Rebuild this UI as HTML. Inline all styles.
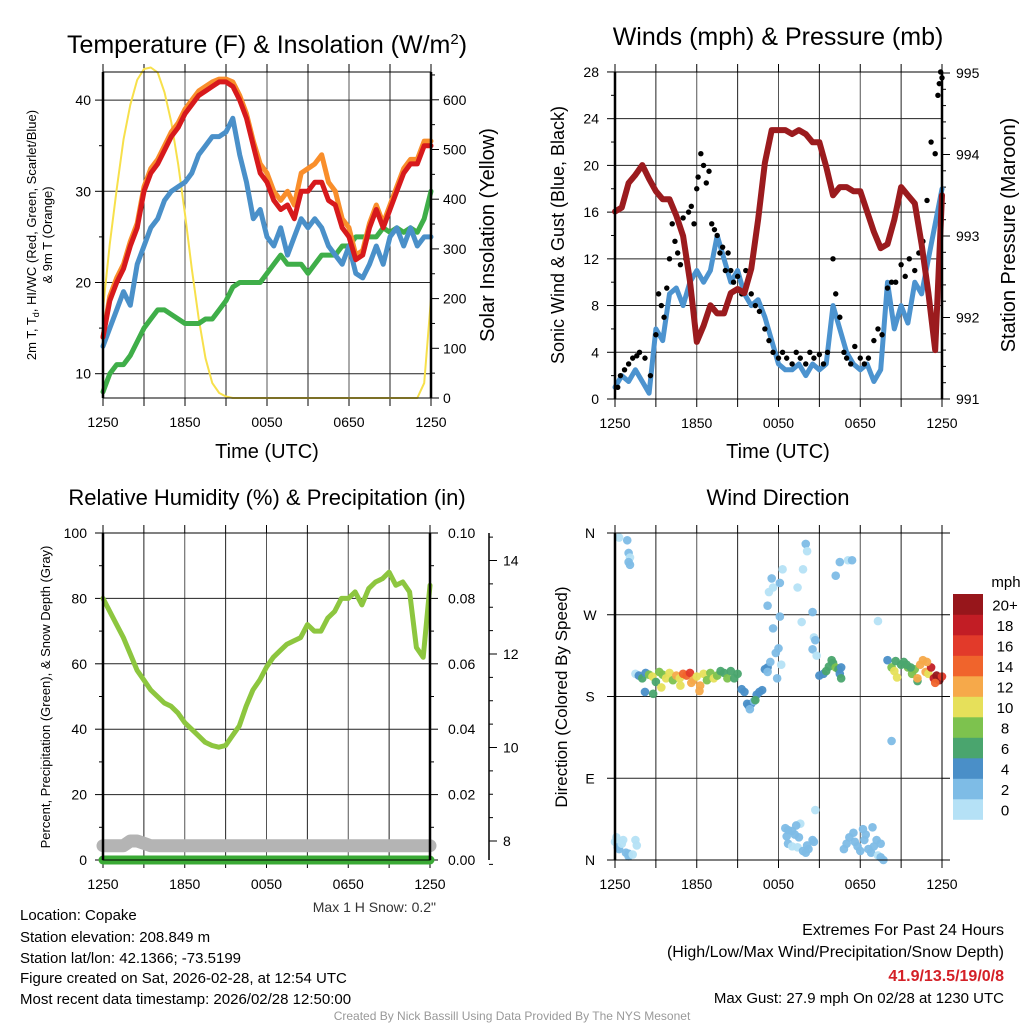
<!DOCTYPE html>
<html><head><meta charset="utf-8"><style>
html,body{margin:0;padding:0;background:#fff;}
svg{display:block;font-family:"Liberation Sans",Arial,sans-serif;}
</style></head><body>
<svg id="chart" width="1024" height="1024" viewBox="0 0 1024 1024" xmlns="http://www.w3.org/2000/svg"></svg>
<script>
// ---------- DATA (half-hourly, 49 points from 1250 UTC to 1250 UTC) ----------
const timeTicks = ["1250","1850","0050","0650","1250"];
const tempRed = [14,18,20,21.5,24,26,30,32,33,34.5,36,37,38.5,39.5,40.5,41,41.5,42,42,41.5,40,38,35,32,31,29,28,28.5,27,30,30,31,31,29,28.5,26,25,22.5,23,26,28,26,28,30,32,33,33,35,35];
const tempOrange = [14,18.5,20.5,22,24.5,26.5,30.5,32.5,33.5,35,36.5,37.5,39,40,41,41.5,42,42.3,42.3,42,40.5,38.5,35.5,33,32,30,29,30,28.5,32,32.5,33,34,31,30,27,26,23,23.5,26.5,28.5,26.5,28.5,30.5,32.5,33.5,33.5,35.5,35.5];
const tempBlue = [13,15,17,19,17.5,22,24,26,27,29,30,30.5,31,32,34,35,36,36,36.5,38,34,31,27,28,25,24,26,23,25,27,26,27,26,24,23,22,24,21,20.5,22,24,22,25,26,24,26,24,25,25];
const dewGreen = [8,10,11,11,12,13.5,15,16,17,17,16.5,16,15.5,15.5,15.5,16,16,17,18,19.5,20,20,20,20,21,22,23,22,22,22,21,22,23,23,23,24,24,25,25,25,25,26,25.5,26,25.5,26,25.5,27,30];
const solar = [180,310,420,520,590,640,662,665,655,615,555,470,370,260,160,80,30,10,3,0,0,0,0,0,0,0,0,0,0,0,0,0,0,0,0,0,0,0,0,0,0,0,0,0,0,0,0,30,200];
const pressure = [993.3,993.35,993.65,993.75,993.87,993.7,993.55,993.45,993.45,993.25,993.0,992.45,991.7,991.9,992.15,992.05,992.05,992.3,992.35,992.3,992.6,993.2,993.9,994.3,994.3,994.3,994.25,994.3,994.25,994.15,994.15,993.85,993.5,993.6,993.6,993.55,993.55,993.3,993.05,992.85,992.9,993.2,993.6,993.5,993.4,992.9,992.3,991.6,993.5];
const windSpeed = [1,2,1.5,2.5,1.5,0.5,6,5,9,9.5,8,10,11,10,11,14,12,10,11,9,8,8.5,7,5,3,2.5,2.5,3,2,3,2.5,3,8,6,4,3,2.5,3,1.5,2.5,10,6,8,6.5,10,9,12,15,18];
const gustHours = [0.2,0.4,0.7,1,1.3,1.6,1.8,2.2,2.6,3,3.2,3.4,3.6,3.8,4,4.2,4.4,4.6,4.8,5,5.2,5.4,5.6,5.8,6,6.1,6.3,6.5,6.7,6.9,7.1,7.3,7.5,7.7,7.9,8.1,8.3,8.5,8.7,9,9.3,9.6,10,10.3,10.6,11,11.3,11.6,12,12.3,12.6,13,13.3,13.6,14,14.3,14.6,15,15.3,15.6,16,16.2,16.5,16.8,17,17.3,17.6,18,18.3,18.6,19,19.3,19.6,20,20.3,20.6,21,21.3,21.6,22,22.3,22.6,22.9,23.2,23.5,23.7,23.8,23.9,24];
const gustValues = [1,2,2.5,3,3.5,3.7,4,3.5,2,5.5,9,8,7,9.5,12,15,13.5,12.5,11.5,15.5,12,16,16.5,15,18,19,21,20,18.5,19.5,15,14.5,14,12.5,13,11,12.5,11,10,10.5,9,11,9,8,7.5,6,5,4,3.5,4,3.5,3,4,3.5,3,4,3.5,3.8,3,4,12,9,7,4,3.5,3,4.5,3.5,3,3.5,5,6,5.5,9.5,10,10,11.5,10.5,12,11,12.5,13.5,17,22,21,26,27,28,27.5];
const rhValues = [80,76,72,68,63,58,55,52,50,48,47,45,42,40,38,36,35,34.5,35,38,41,47,52,55,59,62,64,66,67,68,72,70,70,74,76,80,80,82,78,83,85,86,88,84,85,82,65,62,84];
const precipValues = [0,0,0,0,0,0,0,0,0,0,0,0,0,0,0,0,0,0,0,0,0,0,0,0,0,0,0,0,0,0,0,0,0,0,0,0,0,0,0,0,0,0,0,0,0,0,0,0,0];
const snowDepth = [7.9,7.9,7.9,7.9,8.0,8.0,7.95,7.9,7.9,7.9,7.9,7.9,7.9,7.9,7.9,7.9,7.9,7.9,7.9,7.9,7.9,7.9,7.9,7.9,7.9,7.9,7.9,7.9,7.9,7.9,7.9,7.9,7.9,7.9,7.9,7.9,7.9,7.9,7.9,7.9,7.9,7.9,7.9,7.9,7.9,7.9,7.9,7.9,7.9];
const snowTicks = [8,10,12,14];
const dirHours = [0.3,0.9,1.0,1.1,1.0,1.1, 0,0.1,0.2,0.3,0.5,0.6,0.8,1.0,1.0,1.5,1.6,1.3,
 1.5,1.75,2.0,2.25,2.5,2.75,3.0,3.25,3.5,3.75,4.0,4.25,4.5,4.75,5.0,5.25,5.5,5.75,6.0,6.25,6.5,6.75,7.0,7.25,7.5,7.75,8.0,8.25,8.5,8.75,9.0,2.2,2.8,5.6,6.2,3.4,4.8,
 9.3,9.5,9.7,9.8,10.0,10.2,10.4,10.6,10.8,10.3,9.9,
 11.0,11.2,11.4,11.2,11.8,12.0,11.9,12.2,11.6,11.2,11.3,11.6,11.5,12.3,12.1,12.1,
 12.5,12.7,13.0,12.6,13.2,13.5,12.7,13.0,13.4,13.8,14.0,14.2,14.1,13.6,14.5,14.6,13.3,14.7,
 13.4,13.8,14.0,14.1,13.7,14.5,14.6,14.7,14.5,14.8,
 15.0,15.3,15.5,15.7,16.0,16.2,16.4,16.5,16.6,15.9,16.6,
 16.5,17.1,16.2,17.4,
 16.8,17.0,17.2,17.5,17.6,17.8,18.0,18.3,18.4,18.6,18.8,19.0,19.2,19.3,19.5,19.7,18.2,18.9,19.5,
 20.3,19.3,
 20.0,20.3,20.5,20.7,21.0,21.2,21.5,21.8,22.0,22.2,22.4,22.6,22.8,23.0,23.2,23.4,23.6,23.8,24.0,22.9,23.5,22.2,21.7,20.6,21.4];
const dirDegrees = [355,352,338,333,328,325, 20,25,14,12,18,22,8,4,7,22,16,6,
 205,203,200,206,204,202,196,207,204,200,206,198,203,200,205,203,206,198,202,192,205,198,206,200,203,208,206,200,208,200,205,185,183,195,186,190,192,
 188,185,172,170,172,175,182,185,187,176,166,
 210,212,218,207,228,233,200,215,255,280,295,300,310,320,305,268,
 35,33,32,26,28,25,18,15,14,10,8,12,16,40,22,20,38,55,
 300,320,348,340,262,273,245,242,232,225,
 203,205,208,213,217,212,210,205,200,220,212,
 328,330,313,330,
 12,18,25,30,20,15,10,22,28,12,8,15,22,5,3,0,34,36,18,
 131,263,
 220,212,208,201,215,218,212,205,210,197,215,220,207,205,212,200,203,198,202,218,195,200,212,219,215];
const dirSpeeds = [1,2,2,1,2,2, 1,1,2,2,1,0,2,2,2,1,1,1,
 1,4,6,5,8,10,7,9,8,10,11,9,12,10,14,15,16,12,11,13,10,9,8,10,9,7,6,8,6,7,6,4,7,13,12,10,11,
 4,4,4,4,4,3,4,4,4,6,3,
 4,4,3,3,3,3,3,1,3,2,1,1,2,1,2,3,
 2,2,2,2,2,2,2,1,1,2,2,2,3,1,3,2,2,1,
 1,1,3,1,1,2,1,2,2,1,
 4,4,6,6,6,8,6,4,6,6,4,
 2,1,2,2,
 2,2,2,2,3,3,3,3,2,2,3,3,3,1,2,2,2,3,3,
 2,0,
 4,8,10,10,6,6,8,8,8,6,12,12,12,10,18,18,20,20,16,12,14,12,6,6,6];
const speedBinLabels = ["0","2","4","6","8","10","12","14","16","18","20+"];
const speedBinColors = ["#b5e1f6","#7ebce6","#4a8fc8","#4aa56e","#7dc24e","#e6e05a","#f6a94a","#f0642c","#e23a2a","#c21d25","#97161b"];

// ---------- helpers ----------
const NS = "http://www.w3.org/2000/svg";
const svg = document.getElementById("chart");
function mk(tag, attrs, name, parent) {
  const el = document.createElementNS(NS, tag);
  for (const k in attrs) el.setAttribute(k, attrs[k]);
  
  
  (parent || svg).appendChild(el);
  return el;
}
function txt(x, y, s, size, name, opts) {
  opts = opts || {};
  const el = mk("text", {x: x, y: y, "font-size": size, fill: opts.fill || "#000", "text-anchor": opts.anchor || "middle", "font-weight": opts.weight || "normal"}, name, opts.parent);
  if (opts.rot) el.setAttribute("transform", "rotate(" + opts.rot + " " + x + " " + y + ")");
  el.textContent = s;
  return el;
}
function ln(x1, y1, x2, y2, stroke, w, name, parent) {
  return mk("line", {x1: x1, y1: y1, x2: x2, y2: y2, stroke: stroke, "stroke-width": w}, name, parent);
}
function poly(xs, ys, stroke, w, name, parent) {
  let d = "";
  for (let i = 0; i < xs.length; i++) d += (i ? " " : "") + xs[i].toFixed(1) + "," + ys[i].toFixed(1);
  return mk("polyline", {points: d, fill: "none", stroke: stroke, "stroke-width": w, "stroke-linejoin": "round", "stroke-linecap": "round"}, name, parent);
}
function hrs(n) { const a = []; for (let i = 0; i < n; i++) a.push(i * 0.5); return a; }

function frame(g, L, R, T, B, prefix) {
  for (let h = 0; h <= 24; h += 3) {
    const x = L + (R - L) * h / 24;
    if (h > 0 && h < 24) ln(x, T, x, B, (h % 6 === 0) ? "#555" : "#222", 1, prefix + "-vgrid", g);
    ln(x, T - 8, x, T, "#000", 1, prefix + "-top-tick", g);
    ln(x, B, x, B + 8, "#000", 1, prefix + "-bottom-tick", g);
  }
  for (let i = 0; i < 5; i++) txt(L + (R - L) * i / 4, B + 29, timeTicks[i], 14, prefix + "-x-tick-label", {parent: g});
}

// ================= PANEL 1: Temperature =================
(function () {
  const g = mk("g", {}, "temperature-panel");
  const L = 103, R = 431, T = 72, B = 398;
  const x = h => L + (R - L) * h / 24;
  const yT = v => 373.7 - (v - 10) * 9.12;
  const yS = w => B - w * 0.497;
  const hx = hrs(49).map(x);
  frame(g, L, R, T, B, "temp");
  for (let v = 10; v <= 40; v += 10) { ln(L, yT(v), R, yT(v), "#222", 1, "temp-hgrid", g); ln(L - 8, yT(v), L, yT(v), "#000", 1, "temp-y-tick", g); txt(L - 12, yT(v) + 5, String(v), 14, "temp-y-tick-label", {anchor: "end", parent: g}); }
  for (let v = 15; v <= 40; v += 10) ln(L - 4, yT(v), L, yT(v), "#000", 1, "temp-y-minor-tick", g);
  for (let w = 0; w <= 650; w += 50) { const big = w % 100 === 0; ln(R, yS(w), R + (big ? 8 : 4), yS(w), "#000", 1, "solar-y-tick", g); if (big) txt(R + 12, yS(w) + 5, String(w), 14, "solar-y-tick-label", {anchor: "start", parent: g}); }
  poly(hx, solar.map(yS), "#f7e04b", 2, "solar-insolation-line", g);
  poly(hx, dewGreen.map(yT), "#3fae49", 5, "dewpoint-line", g);
  poly(hx, tempBlue.map(yT), "#4a90c9", 5, "wind-chill-line", g);
  poly(hx, tempOrange.map(yT), "#f98e2b", 5, "temp-9m-line", g);
  poly(hx, tempRed.map(yT), "#d7191c", 5, "temp-2m-line", g);
  mk("rect", {x: L, y: T, width: R - L, height: B - T, fill: "none", stroke: "#000", "stroke-width": 1}, "temp-plot-frame", g);
  ln(L, T, L, B, "#000", 2.5, "temp-left-axis", g); ln(R, T, R, B, "#000", 2.5, "temp-right-axis", g);
  const t = txt(267, 53, "Temperature (F) & Insolation (W/m", 25, "temp-title", {parent: g});
  const sup = document.createElementNS(NS, "tspan"); sup.setAttribute("dy", "-9"); sup.setAttribute("font-size", "15"); sup.textContent = "2"; t.appendChild(sup);
  const cl = document.createElementNS(NS, "tspan"); cl.setAttribute("dy", "9"); cl.textContent = ")"; t.appendChild(cl);
  txt(267, 458, "Time (UTC)", 20, "temp-x-axis-title", {parent: g});
  txt(494, 235, "Solar Insolation (Yellow)", 20, "solar-y-axis-title", {rot: -90, parent: g});
  const yl = txt(36, 235, "", 13, "temp-y-axis-title", {rot: -90, parent: g});
  yl.innerHTML = '<tspan>2m T, T</tspan><tspan font-size="9" dy="3">d</tspan><tspan dy="-3">, HI/WC (Red, Green, Scarlet/Blue)</tspan>';
  txt(52, 235, "& 9m T (Orange)", 13, "temp-y-axis-title-line2", {rot: -90, parent: g});
})();

// ================= PANEL 2: Winds & Pressure =================
(function () {
  const g = mk("g", {}, "winds-panel");
  const L = 615, R = 942, T = 72, B = 399;
  const x = h => L + (R - L) * h / 24;
  const yW = v => B - v * 11.68;
  const yP = p => B - (p - 991) * 81.5;
  const hx = hrs(49).map(x);
  frame(g, L, R, T, B, "wind");
  for (let v = 0; v <= 28; v += 2) {
    const big = v % 4 === 0;
    if (big && v > 0 && v < 28) ln(L, yW(v), R, yW(v), "#222", 1, "wind-hgrid", g);
    ln(L - (big ? 8 : 4), yW(v), L, yW(v), "#000", 1, "wind-y-tick", g);
    if (big) txt(L - 16, yW(v) + 5, String(v), 14, "wind-y-tick-label", {anchor: "end", parent: g});
  }
  for (let k = 0; k <= 20; k++) {
    const p = 991 + k * 0.2;
    const big = k % 5 === 0;
    ln(R, yP(p), R + (big ? 8 : 4), yP(p), "#000", 1, "pressure-y-tick", g);
    if (big) txt(R + 14, yP(p) + 5, String(991 + k / 5), 14, "pressure-y-tick-label", {anchor: "start", parent: g});
  }
  poly(hx, windSpeed.map(yW), "#4c93cf", 5, "sonic-wind-line", g);
  for (let i = 0; i < gustHours.length; i++) mk("circle", {cx: x(gustHours[i]), cy: yW(gustValues[i]), r: 2.7, fill: "#000"}, "gust-point", g);
  poly(hx, pressure.map(yP), "#9b1b1e", 6, "station-pressure-line", g);
  mk("rect", {x: L, y: T, width: R - L, height: B - T, fill: "none", stroke: "#000", "stroke-width": 1}, "wind-plot-frame", g);
  ln(L, T, L, B, "#000", 2.5, "wind-left-axis", g); ln(R, T, R, B, "#000", 2.5, "wind-right-axis", g);
  txt(778, 45, "Winds (mph) & Pressure (mb)", 25, "wind-title", {parent: g});
  txt(778, 458, "Time (UTC)", 20, "wind-x-axis-title", {parent: g});
  txt(564, 235, "Sonic Wind & Gust (Blue, Black)", 18, "wind-y-axis-title", {rot: -90, parent: g});
  txt(1015, 235, "Station Pressure (Maroon)", 20, "pressure-y-axis-title", {rot: -90, parent: g});
})();

// ================= PANEL 3: RH & Precip =================
(function () {
  const g = mk("g", {}, "humidity-panel");
  const L = 103, R = 430, T = 533, B = 860;
  const x = h => L + (R - L) * h / 24;
  const yR = v => B - v * 3.27;
  const yPr = v => B - v * 3270;
  const ySn = v => 841 - (v - 8) * 46.75;
  const hx = hrs(49).map(x);
  frame(g, L, R, T, B, "rh");
  for (let v = 0; v <= 100; v += 10) {
    const big = v % 20 === 0;
    if (big && v > 0 && v < 100) ln(L, yR(v), R, yR(v), "#222", 1, "rh-hgrid", g);
    ln(L - (big ? 8 : 4), yR(v), L, yR(v), "#000", 1, "rh-y-tick", g);
    if (big) txt(L - 16, yR(v) + 5, String(v), 14, "rh-y-tick-label", {anchor: "end", parent: g});
    ln(R, yR(v), R + (big ? 8 : 4), yR(v), "#000", 1, "precip-y-tick", g);
    if (big) txt(R + 18, yR(v) + 5, (v / 1000).toFixed(2), 14, "precip-y-tick-label", {anchor: "start", parent: g});
  }
  ln(489, T, 489, B, "#000", 1.5, "snow-axis-line", g);
  for (let k = 0; k <= 14; k++) {
    const s = 7.5 + k * 0.5;
    ln(489, ySn(s), 493, ySn(s), "#000", 1, "snow-y-minor-tick", g);
  }
  for (let i = 0; i < snowTicks.length; i++) {
    const s = snowTicks[i];
    ln(489, ySn(s), 497, ySn(s), "#000", 1, "snow-y-tick", g);
    txt(503, ySn(s) + 5, String(s), 14, "snow-y-tick-label", {anchor: "start", parent: g});
  }
  poly(hx, snowDepth.map(ySn), "#b4b4b4", 13, "snow-depth-line", g);
  poly(hx, precipValues.map(yPr), "#3aaa35", 9, "precip-line", g);
  poly(hx, rhValues.map(yR), "#8dc63f", 5, "relative-humidity-line", g);
  mk("rect", {x: L, y: T, width: R - L, height: B - T, fill: "none", stroke: "#000", "stroke-width": 1}, "rh-plot-frame", g);
  ln(L, T, L, B, "#000", 2.5, "rh-left-axis", g); ln(R, T, R, B, "#000", 2.5, "rh-right-axis", g);
  txt(267, 505, "Relative Humidity (%) & Precipitation (in)", 22, "rh-title", {parent: g});
  txt(50, 697, "Percent, Precipitation (Green), & Snow Depth (Gray)", 13, "rh-y-axis-title", {rot: -90, parent: g});
  txt(436, 912, "Max 1 H Snow: 0.2\"", 14, "max-snow-note", {anchor: "end", fill: "#333", parent: g});
})();

// ================= PANEL 4: Wind Direction =================
(function () {
  const g = mk("g", {}, "wind-direction-panel");
  const L = 615, R = 942, T = 533, B = 860;
  const x = h => L + (R - L) * h / 24;
  const yD = d => B - d * (B - T) / 360;
  frame(g, L, R, T, B, "dir");
  const dl = ["N", "E", "S", "W", "N"];
  for (let i = 0; i < 5; i++) {
    const y = yD(i * 90);
    if (i > 0 && i < 4) ln(L, y, R, y, "#222", 1, "dir-hgrid", g);
    ln(L - 8, y, L, y, "#000", 1, "dir-y-tick", g);
    ln(R, y, R + 8, y, "#000", 1, "dir-right-tick", g);
    txt(L - 25, y + 5, dl[i], 14, "dir-y-tick-label", {parent: g});
  }
  for (let i = 0; i < dirHours.length; i++) {
    const b = Math.min(10, Math.floor(dirSpeeds[i] / 2));
    mk("circle", {cx: x(dirHours[i]), cy: yD(dirDegrees[i]), r: 4.3, fill: speedBinColors[b], "fill-opacity": 0.95}, "wind-direction-point", g);
  }
  mk("rect", {x: L, y: T, width: R - L, height: B - T, fill: "none", stroke: "#000", "stroke-width": 1}, "dir-plot-frame", g);
  ln(L, T, L, B, "#000", 2.5, "dir-left-axis", g);
  txt(778, 505, "Wind Direction", 22, "dir-title", {parent: g});
  txt(567, 697, "Direction (Colored By Speed)", 17, "dir-y-axis-title", {rot: -90, parent: g});
  const cg = mk("g", {}, "speed-colorbar", g);
  const cbT = 594, cbH = 20.5;
  for (let i = 0; i < 11; i++) {
    const y = cbT + (10 - i) * cbH;
    mk("rect", {x: 953, y: y, width: 30, height: cbH + 0.3, fill: speedBinColors[i]}, "colorbar-bin", cg);
    txt(1005, y + cbH / 2 + 6, speedBinLabels[i], 15, "colorbar-label", {parent: cg});
  }
  txt(1006, 587, "mph", 15, "colorbar-title", {parent: cg});
})();

// ================= Footer text =================
const info = ["Location: Copake", "Station elevation: 208.849 m", "Station lat/lon: 42.1366; -73.5199", "Figure created on Sat, 2026-02-28, at 12:54 UTC", "Most recent data timestamp: 2026/02/28 12:50:00"];
const infoY = [920, 942, 963, 983, 1004];
for (let i = 0; i < info.length; i++) txt(20, infoY[i], info[i], 15, "station-info-line", {anchor: "start"});
txt(1004, 935, "Extremes For Past 24 Hours", 16, "extremes-title", {anchor: "end"});
txt(1004, 957, "(High/Low/Max Wind/Precipitation/Snow Depth)", 16, "extremes-subtitle", {anchor: "end"});
txt(1004, 981, "41.9/13.5/19/0/8", 16, "extremes-values", {anchor: "end", fill: "#d42027", weight: "bold"});
txt(1004, 1003, "Max Gust: 27.9 mph On 02/28 at 1230 UTC", 15, "max-gust-note", {anchor: "end"});
txt(512, 1020, "Created By Nick Bassill Using Data Provided By The NYS Mesonet", 12, "credit-line", {fill: "#999"});
</script>
</body></html>
